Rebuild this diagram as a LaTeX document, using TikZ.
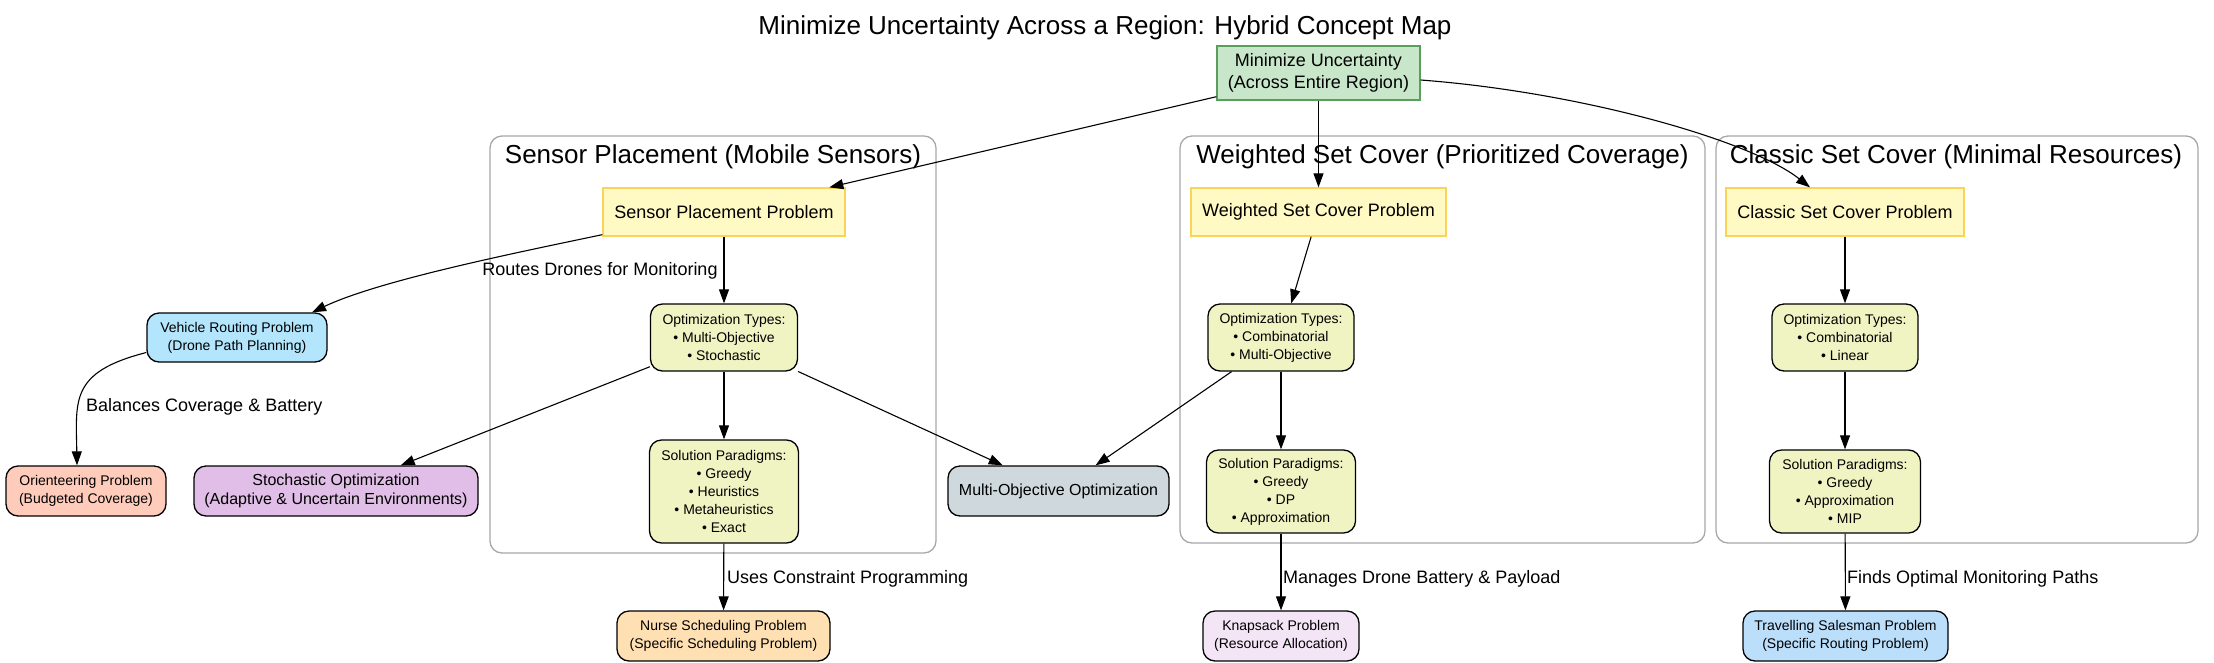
\documentclass[tikz,border=0pt]{standalone}
\usepackage{fontspec}
\setmainfont{Liberation Sans}
\usetikzlibrary{arrows.meta}
\definecolor{rootfill}{HTML}{C8E6C9}
\definecolor{rootdraw}{HTML}{5A9E5C}
\definecolor{probfill}{HTML}{FFF9C4}
\definecolor{probdraw}{HTML}{FBD35B}
\definecolor{optfill}{HTML}{F0F4C3}
\definecolor{vrpfill}{HTML}{B3E5FC}
\definecolor{orfill}{HTML}{FFCCBC}
\definecolor{stfill}{HTML}{E1BEE7}
\definecolor{mofill}{HTML}{CFD8DC}
\definecolor{nsfill}{HTML}{FFE0B2}
\definecolor{kpfill}{HTML}{F3E5F5}
\definecolor{tspfill}{HTML}{BBDEFB}
\definecolor{clgray}{HTML}{A8A8A8}
\begin{document}
\begin{tikzpicture}[x=1pt,y=-1pt,
 base/.style={inner sep=0pt, align=center, line width=1.3pt},
 rootbox/.style={base, draw=rootdraw, fill=rootfill, font=\fontsize{18}{21.5}\selectfont},
 probbox/.style={base, draw=probdraw, fill=probfill, minimum height=48pt, font=\fontsize{18}{21.5}\selectfont},
 roundbox/.style={base, draw=black, rounded corners=12pt, font=\fontsize{14}{18}\selectfont},
 bigroundbox/.style={roundbox, font=\fontsize{16}{19}\selectfont},
 cluster/.style={draw=clgray, line width=1.3pt, rounded corners=12pt},
 cltitle/.style={font=\fontsize{26}{30}\selectfont, inner sep=0pt},
 elabel/.style={font=\fontsize{18}{21}\selectfont, inner sep=0pt, anchor=west},
 arr/.style={-{Triangle[length=14pt,width=10pt]}, line width=1.1pt},
]
\useasboundingbox (0,0) rectangle (2214,662);

% clusters
\draw[cluster] (490,136) rectangle (936,553);
\draw[cluster] (1180,136) rectangle (1705,543);
\draw[cluster] (1716,136) rectangle (2198,543);
\node[cltitle] (t1) at (713,157) {Sensor Placement (Mobile Sensors)};
\node[cltitle] (t2) at (1442.5,157) {Weighted Set Cover (Prioritized Coverage)};
\node[cltitle] (t3) at (1956,157) {Classic Set Cover (Minimal Resources)};

\node[cltitle] (title) at (1105,28) {Minimize Uncertainty Across a Region: Hybrid Concept Map};

% nodes
\node[rootbox, minimum width=203pt, minimum height=54pt] (root) at (1318.5,73) {Minimize Uncertainty\\(Across Entire Region)};
\node[probbox, minimum width=242pt] (spp) at (724,212) {Sensor Placement Problem};
\node[probbox, minimum width=255pt] (wscp) at (1318.5,212) {Weighted Set Cover Problem};
\node[probbox, minimum width=238pt] (cscp) at (1845,212) {Classic Set Cover Problem};

\node[roundbox, fill=optfill, minimum width=147pt, minimum height=67pt] (opt1) at (724,337.5) {Optimization Types:\\• Multi-Objective\\• Stochastic};
\node[roundbox, fill=optfill, minimum width=146pt, minimum height=67pt] (opt2) at (1281,337.5) {Optimization Types:\\• Combinatorial\\• Multi-Objective};
\node[roundbox, fill=optfill, minimum width=146pt, minimum height=67pt] (opt3) at (1845,337.5) {Optimization Types:\\• Combinatorial\\• Linear};

\node[roundbox, fill=optfill, minimum width=149pt, minimum height=103pt] (sol1) at (724,491.5) {Solution Paradigms:\\• Greedy\\• Heuristics\\• Metaheuristics\\• Exact};
\node[roundbox, fill=optfill, minimum width=149pt, minimum height=83pt] (sol2) at (1281,491.5) {Solution Paradigms:\\• Greedy\\• DP\\• Approximation};
\node[roundbox, fill=optfill, minimum width=151pt, minimum height=83pt] (sol3) at (1845,491.5) {Solution Paradigms:\\• Greedy\\• Approximation\\• MIP};

\node[roundbox, fill=vrpfill, minimum width=180pt, minimum height=49pt] (vrp) at (237,337.5) {Vehicle Routing Problem\\(Drone Path Planning)};
\node[roundbox, fill=orfill, minimum width=160pt, minimum height=50pt] (orient) at (86,491) {Orienteering Problem\\(Budgeted Coverage)};
\node[bigroundbox, fill=stfill, minimum width=284pt, minimum height=50pt] (stoch) at (336,491) {Stochastic Optimization\\(Adaptive \& Uncertain Environments)};
\node[bigroundbox, fill=mofill, minimum width=221pt, minimum height=50pt] (multi) at (1058.5,491) {Multi-Objective Optimization};

\node[roundbox, fill=nsfill, minimum width=213pt, minimum height=50pt] (nurse) at (723.5,636) {Nurse Scheduling Problem\\(Specific Scheduling Problem)};
\node[roundbox, fill=kpfill, minimum width=156pt, minimum height=50pt] (knap) at (1281,636) {Knapsack Problem\\(Resource Allocation)};
\node[roundbox, fill=tspfill, minimum width=205pt, minimum height=50pt] (tsp) at (1845.5,636) {Travelling Salesman Problem\\(Specific Routing Problem)};

% edges
\draw[arr] (root) -- (spp);
\draw[arr] (root) -- (wscp);
\draw[arr] ([yshift=-7pt]root.east) .. controls (1580,92) and (1750,140) .. ([xshift=-35pt]cscp.north);

\draw[arr] ([yshift=2pt]spp.south west) .. controls (520,252) and (380,280) .. ([xshift=75pt]vrp.north);
\node[elabel, anchor=center] (l1) at (600,271) {Routes Drones for Monitoring};
\draw[arr] (spp) -- (opt1);

\draw[arr] ([yshift=-15pt]vrp.west) .. controls (70,372) and (76,400) .. ([xshift=-9pt]orient.north);
\node[elabel] (l2) at (86,407) {Balances Coverage \& Battery};

\draw[arr] (opt1) -- (stoch);
\draw[arr] (opt1) -- (sol1);
\draw[arr] (opt1) -- (multi);
\draw[arr] (sol1) -- (nurse);
\node[elabel] (l3) at (727,579) {Uses Constraint Programming};

\draw[arr] (wscp) -- (opt2);
\draw[arr] (opt2) -- (multi);
\draw[arr] (opt2) -- (sol2);
\draw[arr] (sol2) -- (knap);
\node[elabel] (l4) at (1283,579) {Manages Drone Battery \& Payload};

\draw[arr] (cscp) -- (opt3);
\draw[arr] (opt3) -- (sol3);
\draw[arr] (sol3) -- (tsp);
\node[elabel] (l5) at (1847,579) {Finds Optimal Monitoring Paths};
\end{tikzpicture}
\end{document}
